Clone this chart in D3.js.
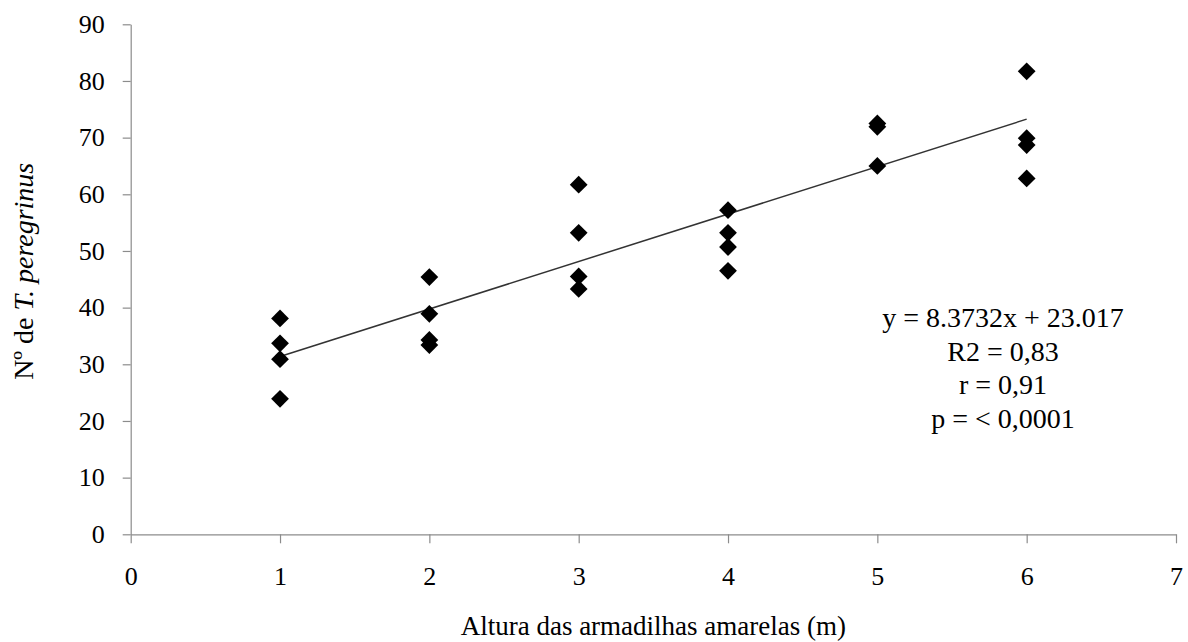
<html>
<head>
<meta charset="utf-8">
<style>
    body {
        margin: 0;
        background: white;
        font-family: "Liberation Serif", "Times New Roman", serif;
    }
    .axis path, .axis line {
        stroke: #8c8c8c;
        stroke-width: 1.2px;
    }
    .axis text {
        font-family: "Liberation Serif", serif;
        font-size: 26px;
        fill: #000;
    }
</style>
</head>
<script src="https://cdn.jsdelivr.net/npm/d3@7"></script>
<body>
<svg id="chart"></svg>
<script>
    // points
    let heights = [1, 1, 1, 1, 2, 2, 2, 2, 3, 3, 3, 3, 4, 4, 4, 4, 5, 5, 5, 6, 6, 6, 6]
    let counts = [38.1, 33.7, 30.9, 23.9, 45.4, 38.9, 34.3, 33.4, 61.7, 53.2, 45.5, 43.3,
                  57.2, 53.2, 50.7, 46.5, 72.5, 71.9, 65.0, 81.7, 69.9, 68.7, 62.8]

    // fitted line endpoints (y = 8.3732x + 23.017)
    let fitX = [1, 6]
    let fitY = [31.39, 73.26]

    let xTicks = [0, 1, 2, 3, 4, 5, 6, 7]
    let yTicks = [0, 10, 20, 30, 40, 50, 60, 70, 80, 90]
    let statsLines = ["y = 8.3732x + 23.017", "R2 = 0,83", "r = 0,91", "p = < 0,0001"]

    function getConfig() {
        let width = 1188
        let height = 642
        let margin = {top: 24.3, bottom: 642 - 534.3, left: 130.7, right: 1188 - 1176}
        let container = d3.select('#chart')
            .attr('width', width)
            .attr('height', height)
        return {width, height, margin, container}
    }

    function getScales(config) {
        let {width, height, margin} = config
        let xScale = d3.scaleLinear()
            .domain([0, 7])
            .range([margin.left, width - margin.right])
        let yScale = d3.scaleLinear()
            .domain([0, 90])
            .range([height - margin.bottom, margin.top])
        return {xScale, yScale}
    }

    function drawAxes(config, scales) {
        let {container} = config
        let {xScale, yScale} = scales

        let axisX = d3.axisBottom(xScale)
            .tickValues(xTicks)
            .tickFormat(d3.format('d'))
            .tickSize(9)
            .tickSizeOuter(0)
            .tickPadding(23)
        container.append('g')
            .attr('class', 'axis')
            .attr('transform', `translate(0,${yScale(0)})`)
            .call(axisX)

        let axisY = d3.axisLeft(yScale)
            .tickValues(yTicks)
            .tickFormat(d3.format('d'))
            .tickSize(8)
            .tickSizeOuter(0)
            .tickPadding(18)
        container.append('g')
            .attr('class', 'axis')
            .attr('transform', `translate(${xScale(0)},0)`)
            .call(axisY)

        // x title
        container.append('text')
            .attr('x', (xScale(0) + xScale(7)) / 2)
            .attr('y', 635)
            .attr('text-anchor', 'middle')
            .style('font-size', '27px')
            .text('Altura das armadilhas amarelas (m)')

        // y title
        let yt = container.append('text')
            .attr('transform', `translate(33,${(yScale(0) + yScale(90)) / 2 - 8}) rotate(-90)`)
            .attr('text-anchor', 'middle')
            .style('font-size', '28px')
        yt.append('tspan').text('Nº de ')
        yt.append('tspan').style('font-style', 'italic').text('T. peregrinus')
    }

    function drawPoints(config, scales) {
        let {container} = config
        let {xScale, yScale} = scales
        let diamond = d3.symbol().type(d3.symbolSquare).size(158)

        container.append('line')
            .attr('x1', xScale(fitX[0]))
            .attr('y1', yScale(fitY[0]))
            .attr('x2', xScale(fitX[1]))
            .attr('y2', yScale(fitY[1]))
            .attr('stroke', '#333')
            .attr('stroke-width', 1.5)

        container.selectAll('.pt')
            .data(heights.map((h, i) => ({h, c: counts[i]})))
            .enter().append('path')
            .attr('class', 'pt')
            .attr('d', diamond)
            .attr('transform', d => `translate(${xScale(d.h)},${yScale(d.c)}) rotate(45)`)
            .attr('fill', '#000')
    }

    function drawStats(config) {
        let {container} = config
        container.selectAll('.stat')
            .data(statsLines)
            .enter().append('text')
            .attr('class', 'stat')
            .attr('x', 1003)
            .attr('y', (d, i) => 327 + i * 33.7)
            .attr('text-anchor', 'middle')
            .style('font-size', '28px')
            .text(d => d)
    }

    let config = getConfig()
    let scales = getScales(config)
    drawAxes(config, scales)
    drawPoints(config, scales)
    drawStats(config)
</script>
</body>
</html>
